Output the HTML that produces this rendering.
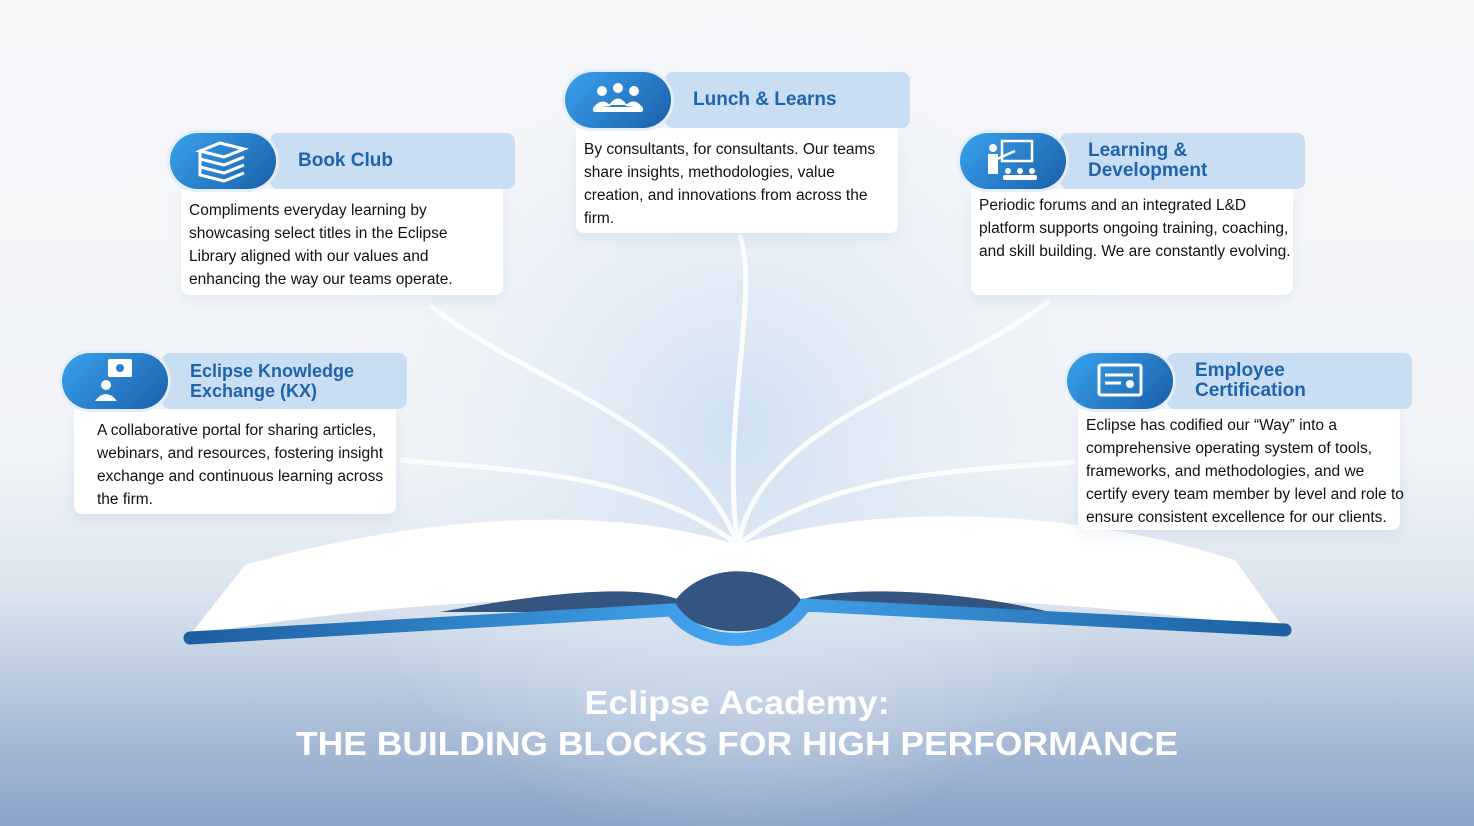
<!DOCTYPE html>
<html><head><meta charset="utf-8"><style>
body{margin:0;width:1474px;height:826px;overflow:hidden;font-family:"Liberation Sans",sans-serif;position:relative;
background:linear-gradient(180deg,#f6f7f9 0%,#f1f4f8 55%,#dbe4ee 72%,#b3c4dc 85%,#8aa3c7 100%);}
.ic{position:absolute;width:106px;height:56px;border-radius:28px;background:linear-gradient(135deg,#3aa2ee,#1a5fa8);box-shadow:0 0 0 3px #e4eef8;}
.bar{position:absolute;height:56px;width:245px;background:#c9ddf3;border-radius:8px;color:#1e64ad;font-weight:bold;font-size:19px;display:flex;align-items:center;box-sizing:border-box;padding-left:28px;line-height:20px}
.body{position:absolute;background:#fff;border-radius:0 0 8px 8px;width:322px;box-sizing:border-box;padding:10px 8px 0 8px;font-size:15.5px;line-height:23px;color:#111;white-space:nowrap;box-shadow:0 6px 14px rgba(120,150,190,.12)}
</style></head><body>
<svg width="1474" height="826" style="position:absolute;left:0;top:0">
<defs>
<radialGradient id="g" cx="737" cy="430" r="420" gradientUnits="userSpaceOnUse"><stop offset="0" stop-color="#cfe0f1"/><stop offset="1" stop-color="#eef3f8" stop-opacity="0"/></radialGradient>
<linearGradient id="sp" x1="0" x2="1"><stop offset="0" stop-color="#1d5fa0"/><stop offset=".5" stop-color="#43a6f0"/><stop offset="1" stop-color="#1d5fa0"/></linearGradient>
</defs>
<circle cx="737" cy="430" r="420" fill="url(#g)"/>
<g fill="none" stroke="#fff" stroke-width="5" opacity=".9">
<path d="M738 545 C720 420 760 300 740 235"/>
<path d="M738 545 C690 420 520 380 430 305"/>
<path d="M738 545 C760 420 950 380 1050 300"/>
<path d="M738 545 C640 470 500 470 400 460"/>
<path d="M738 545 C830 470 980 470 1075 462"/>
</g>
<path d="M190 635 L245 565 C400 520 600 500 738 545 L738 610 C600 590 400 600 190 635Z" fill="#fff"/>
<path d="M1285 630 L1235 560 C1080 510 880 500 738 545 L738 610 C880 590 1080 600 1285 630Z" fill="#fff"/>
<path d="M440 612 C560 590 640 585 680 600 L680 612Z" fill="#34557f"/>
<path d="M800 600 C850 585 960 590 1050 612 L800 612Z" fill="#34557f"/>
<path d="M672 605 C700 560 775 560 805 605 C775 640 700 640 672 605Z" fill="#34557f"/>
<path d="M190 638 L672 610 C700 650 775 650 805 605 L1285 630" stroke="url(#sp)" stroke-width="13" fill="none" stroke-linecap="round"/>
<text x="737" y="714" text-anchor="middle" font-family="Liberation Sans" font-weight="bold" font-size="33" fill="#fff" textLength="305" lengthAdjust="spacingAndGlyphs">Eclipse Academy:</text>
<text x="737" y="755" text-anchor="middle" font-family="Liberation Sans" font-weight="bold" font-size="33" fill="#fff" textLength="882" lengthAdjust="spacingAndGlyphs">THE BUILDING BLOCKS FOR HIGH PERFORMANCE</text>
</svg>

<div class="body" style="left:181px;top:189px;height:106px;">Compliments everyday learning by<br>showcasing select titles in the Eclipse<br>Library aligned with our values and<br>enhancing the way our teams operate.</div>
<div class="bar" style="left:270px;top:133px;">Book Club</div>
<div class="ic" style="left:170px;top:133px;"><svg width="106" height="56"><g fill="none" stroke="#fff" stroke-width="3"><path d="M30 18 L50 10 L74 16 L54 24Z"/><path d="M30 18 V26 L54 32 L74 24"/><path d="M30 26 V34 L54 40 L74 32"/><path d="M30 34 V42 L54 48 L74 40"/></g></svg></div>

<div class="body" style="left:576px;top:128px;height:105px;">By consultants, for consultants. Our teams<br>share insights, methodologies, value<br>creation, and innovations from across the<br>firm.</div>
<div class="bar" style="left:665px;top:72px;">Lunch &amp; Learns</div>
<div class="ic" style="left:565px;top:72px;"><svg width="106" height="56" fill="#fff"><circle cx="37" cy="19" r="5"/><circle cx="53" cy="16" r="5"/><circle cx="69" cy="19" r="5"/><path d="M28 36 Q37 24 46 34Z M44 33 Q53 20 62 33Z M60 34 Q69 24 78 36Z"/><rect x="28" y="35" width="50" height="5" rx="2"/></svg></div>

<div class="body" style="left:971px;top:189px;height:106px;padding-top:5px">Periodic forums and an integrated L&amp;D<br>platform supports ongoing training, coaching,<br>and skill building. We are constantly evolving.</div>
<div class="bar" style="left:1060px;top:133px;">Learning &amp;<br>Development</div>
<div class="ic" style="left:960px;top:133px;"><svg width="106" height="56"><rect x="42" y="8" width="30" height="20" fill="none" stroke="#fff" stroke-width="2.5"/><circle cx="33" cy="15" r="4" fill="#fff"/><rect x="28" y="21" width="10" height="20" fill="#fff"/><path d="M37 26 L55 18" stroke="#fff" stroke-width="2.5"/><g fill="#fff"><circle cx="48" cy="38" r="3"/><circle cx="60" cy="38" r="3"/><circle cx="72" cy="38" r="3"/><rect x="43" y="42" width="34" height="5" rx="2"/></g></svg></div>

<div class="body" style="left:74px;top:409px;height:105px;padding-left:23px">A collaborative portal for sharing articles,<br>webinars, and resources, fostering insight<br>exchange and continuous learning across<br>the firm.</div>
<div class="bar" style="left:162px;top:353px;font-size:18px">Eclipse Knowledge<br>Exchange (KX)</div>
<div class="ic" style="left:62px;top:353px;"><svg width="106" height="56" fill="#fff"><circle cx="44" cy="32" r="5"/><path d="M33 48 Q44 34 55 48Z"/><rect x="46" y="6" width="24" height="18" rx="2"/><circle cx="58" cy="15" r="4" fill="#2a7fd0"/></svg></div>

<div class="body" style="left:1078px;top:409px;height:121px;padding-top:5px">Eclipse has codified our “Way” into a<br>comprehensive operating system of tools,<br>frameworks, and methodologies, and we<br>certify every team member by level and role to<br>ensure consistent excellence for our clients.</div>
<div class="bar" style="left:1167px;top:353px;">Employee<br>Certification</div>
<div class="ic" style="left:1067px;top:353px;"><svg width="106" height="56"><rect x="32" y="12" width="42" height="30" rx="2" fill="none" stroke="#fff" stroke-width="3"/><path d="M38 22 H66 M38 30 H54" stroke="#fff" stroke-width="3"/><circle cx="63" cy="31" r="4" fill="#fff"/></svg></div>
</body></html>
